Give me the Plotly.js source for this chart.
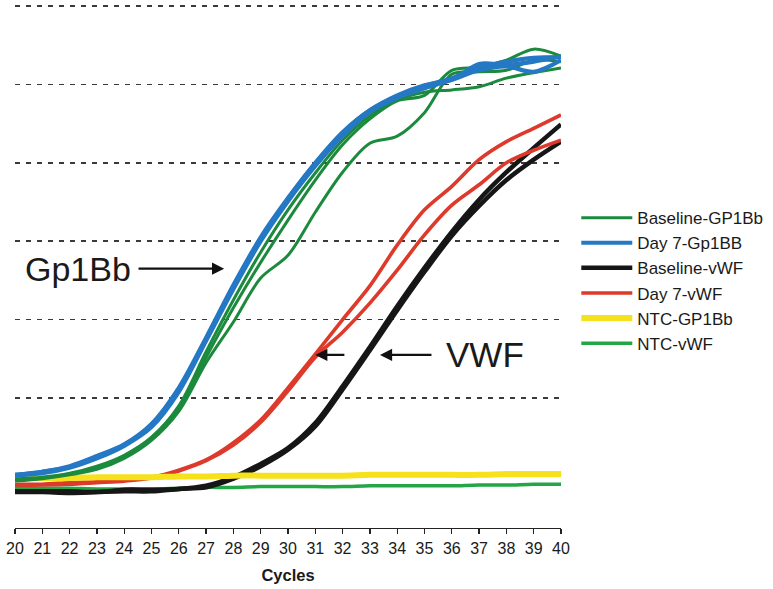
<!DOCTYPE html>
<html>
<head>
<meta charset="utf-8">
<script src="https://cdn.plot.ly/plotly-3.0.1.min.js"></script>
<style>html,body{margin:0;padding:0;background:#fff;}#chart{width:773px;height:589px;}</style>
</head>
<body>
<div id="chart"></div>
<script>
// Cycle numbers (x axis)
const cycles = [20,21,22,23,24,25,26,27,28,29,30,31,32,33,34,35,36,37,38,39,40];

// Fluorescence readings (arbitrary units; dashed grid every 100)
// Baseline-GP1Bb replicates (green)
const baselineGP1Bb_r1 = [-3,-1,4,13,27,50,90,159,225,286,340,387,429,460,480,490,493,497,508,515,521];
const baselineGP1Bb_r2 = [-5,-2,3,11,25,48,86,152,215,273,327,378,423,456,479,486,518,522,531,545,536];
const baselineGP1Bb_r3 = [-6,-3,2,9,23,46,83,145,197,253,282,337,388,425,434,464,513,516,518,531,529];
// Day 7-Gp1BB replicates (blue)
const day7Gp1BB_r1 = [2,6,13,26,41,67,113,177,244,305,355,400,439,467,485,498,508,521,529,534,535];
const day7Gp1BB_r2 = [1,4,11,23,39,63,108,173,239,300,351,396,435,465,483,495,506,518,523,516,531];
const day7Gp1BB_r3 = [2,6,12,25,40,66,110,175,242,303,354,399,438,467,486,499,506,526,525,529,536];
// Baseline-vWF replicates (black)
const baselineVWF_r1 = [-19,-19,-19,-20,-17,-17,-16,-12,-1,16,36,68,115,165,217,266,312,353,388,419,449];
const baselineVWF_r2 = [-20,-20,-21,-20,-19,-19,-16,-14,-3,13,34,64,111,161,212,261,307,345,378,404,427];
// Day 7-vWF replicates (red)
const day7VWF_r1 = [-10,-10,-8,-7,-5,-1,8,21,43,72,113,156,200,243,295,340,370,404,427,444,461];
const day7VWF_r2 = [-11,-11,-10,-8,-6,-2,7,20,40,69,109,152,184,221,263,308,346,372,400,416,429];
// No-template controls
const ntcGP1Bb = [-2,-2,-2,-1,-1,-1,0,0,1,1,1,1,1,2,2,2,2,2,3,3,3];
const ntcVWF = [-14,-15,-15,-16,-16,-16,-15,-14,-14,-13,-13,-13,-13,-12,-12,-12,-12,-11,-11,-10,-10];

const gridLevels = [100,200,300,400,500,600];
const tickLabels = cycles.map(String);

function series(name, color, width, rank, reps){
  return reps.map((ys, i) => ({
    type: 'scatter', mode: 'lines', x: cycles, y: ys,
    name: name, legendgroup: name, showlegend: i === 0, legendrank: rank,
    line: {color: color, width: width, shape: 'spline', smoothing: 0.9},
    hoverinfo: 'skip'
  }));
}

const traces = [].concat(
  series('NTC-vWF', '#22a646', 3.5, 6, [ntcVWF]),
  series('Baseline-vWF', '#161616', 4.5, 3, [baselineVWF_r1, baselineVWF_r2]),
  series('Day 7-vWF', '#dd3a2b', 3.6, 4, [day7VWF_r1, day7VWF_r2]),
  series('NTC-GP1Bb', '#f6e21c', 6, 5, [ntcGP1Bb]),
  series('Baseline-GP1Bb', '#1b8a3d', 3, 1, [baselineGP1Bb_r1, baselineGP1Bb_r2, baselineGP1Bb_r3]),
  series('Day 7-Gp1BB', '#2478c4', 4.2, 2, [day7Gp1BB_r1, day7Gp1BB_r2, day7Gp1BB_r3])
);

const font = 'Liberation Sans, Arial, Helvetica, sans-serif';

const layout = {
  width: 773, height: 589,
  paper_bgcolor: '#fff', plot_bgcolor: '#fff',
  margin: {l: 15, r: 212.3, t: 5, b: 61},
  font: {family: font, color: '#1a1a1a'},
  xaxis: {
    range: [20, 40], tickvals: cycles, ticktext: tickLabels,
    ticks: 'outside', ticklen: 5, tickwidth: 1.3, tickcolor: '#222',
    showline: true, linecolor: '#222', linewidth: 1.3,
    showgrid: false, zeroline: false,
    tickfont: {size: 16, color: '#1a1a1a'},
    title: {text: 'Cycles', font: {size: 16.5, weight: 'bold', color: '#1a1a1a'}, standoff: 14}
  },
  yaxis: {
    range: [-65.8, 601.3], tickvals: gridLevels,
    showticklabels: false, ticks: '',
    showgrid: true, gridcolor: '#3a3a3a', gridwidth: 1.5, griddash: '5px,6px',
    zeroline: false, showline: false
  },
  showlegend: true,
  legend: {
    x: 1.028, xanchor: 'left', y: 0.627, yanchor: 'top',
    font: {size: 17, color: '#1a1a1a'}, itemwidth: 51,
    bgcolor: 'rgba(0,0,0,0)', traceorder: 'normal'
  },
  annotations: [
    {x: 22.29, y: 265, xref: 'x', yref: 'y', text: 'Gp1Bb', showarrow: false,
     xanchor: 'center', yanchor: 'middle', font: {size: 34, color: '#1a1a1a'}},
    {x: 27.66, y: 265, ax: 24.47, ay: 265, axref: 'x', ayref: 'y', xref: 'x', yref: 'y',
     text: '', showarrow: true, arrowhead: 2, arrowsize: 1.1, arrowwidth: 2.2, arrowcolor: '#111', standoff: 0},
    {x: 37.22, y: 155, xref: 'x', yref: 'y', text: 'VWF', showarrow: false,
     xanchor: 'center', yanchor: 'middle', font: {size: 35, color: '#1a1a1a'}},
    {x: 31.0, y: 155, ax: 32.12, ay: 155, axref: 'x', ayref: 'y', xref: 'x', yref: 'y',
     text: '', showarrow: true, arrowhead: 2, arrowsize: 1.1, arrowwidth: 2.2, arrowcolor: '#111', standoff: 0},
    {x: 33.37, y: 155, ax: 35.31, ay: 155, axref: 'x', ayref: 'y', xref: 'x', yref: 'y',
     text: '', showarrow: true, arrowhead: 2, arrowsize: 1.1, arrowwidth: 2.2, arrowcolor: '#111', standoff: 0}
  ]
};

Plotly.newPlot('chart', traces, layout, {displayModeBar: false, staticPlot: true});
</script>
</body>
</html>
